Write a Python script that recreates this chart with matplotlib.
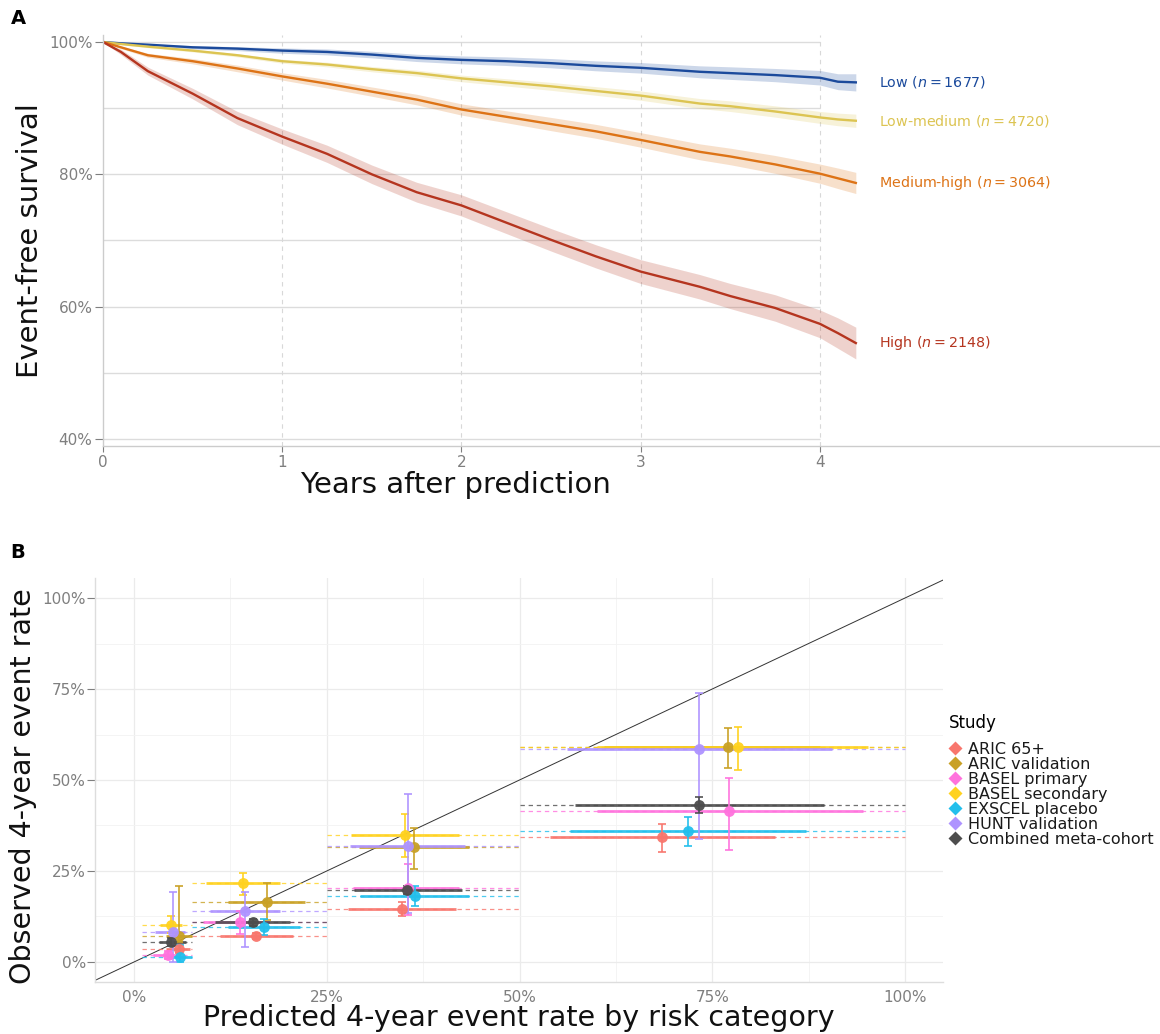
import matplotlib
matplotlib.use("Agg")
import matplotlib.pyplot as plt
from matplotlib.lines import Line2D
from matplotlib.ticker import FuncFormatter, FixedLocator

# ---------------- Panel A data ----------------
years = [0, 0.1, 0.25, 0.5, 0.75, 1, 1.25, 1.5, 1.75, 2, 2.25, 2.5, 2.75, 3, 3.33, 3.5, 3.75, 4, 4.1, 4.2]

surv_low = [100, 99.8, 99.6, 99.2, 99.0, 98.7, 98.5, 98.1, 97.6, 97.3, 97.1, 96.8, 96.4, 96.1, 95.5, 95.3, 95.0, 94.6, 94.0, 93.9]
surv_lowmed = [100, 99.7, 99.3, 98.7, 98.0, 97.1, 96.6, 95.9, 95.3, 94.5, 93.9, 93.3, 92.6, 91.9, 90.7, 90.3, 89.5, 88.6, 88.3, 88.1]
surv_medhigh = [100, 99.2, 98.0, 97.1, 96.0, 94.8, 93.7, 92.5, 91.3, 89.8, 88.7, 87.6, 86.5, 85.2, 83.4, 82.7, 81.5, 80.1, 79.4, 78.7]
surv_high = [100, 98.5, 95.6, 92.2, 88.5, 85.7, 83.1, 80.0, 77.3, 75.3, 72.7, 70.1, 67.6, 65.3, 63.0, 61.6, 59.8, 57.4, 56.0, 54.5]

hw_low = [0, .1, .15, .25, .3, .4, .45, .5, .55, .6, .65, .7, .75, .8, .9, .95, 1.0, 1.1, 1.2, 1.3]
hw_lowmed = [0, .1, .15, .2, .25, .3, .35, .4, .45, .5, .55, .6, .65, .7, .75, .8, .85, .9, .95, 1.0]
hw_medhigh = [0, .2, .3, .4, .5, .55, .65, .7, .8, .85, .9, 1.0, 1.05, 1.1, 1.2, 1.25, 1.35, 1.45, 1.55, 1.6]
hw_high = [0, .4, .6, .8, 1.0, 1.15, 1.3, 1.4, 1.5, 1.6, 1.65, 1.7, 1.75, 1.8, 1.85, 1.9, 2.0, 2.1, 2.3, 2.4]

group_names = ["Low", "Low-medium", "Medium-high", "High"]
group_n = [1677, 4720, 3064, 2148]
group_colors = ["#1B4A9C", "#DCC452", "#DD7316", "#B5351F"]

# ---------------- Panel B data ----------------
studies = ["ARIC 65+", "ARIC validation", "BASEL primary", "BASEL secondary",
           "EXSCEL placebo", "HUNT validation", "Combined meta-cohort"]
study_colors = ["#F8766D", "#C9A125", "#FF72DD", "#FFD21F", "#22BFEC", "#AE93FF", "#4D4D4D"]

bin_lo = [1, 7.5, 25, 50]
bin_hi = [7.5, 25, 50, 100]

pred = {
    "ARIC 65+":            [5.9, 15.8, 34.7, 68.5],
    "ARIC validation":     [5.9, 17.2, 36.3, 77.1],
    "BASEL primary":       [4.4, 13.7, 35.6, 77.2],
    "BASEL secondary":     [4.8, 14.1, 35.1, 78.3],
    "EXSCEL placebo":      [6.0, 16.9, 36.4, 71.9],
    "HUNT validation":     [5.0, 14.4, 35.5, 73.3],
    "Combined meta-cohort": [4.8, 15.4, 35.4, 73.3],
}
pred_lo = {
    "ARIC 65+":            [4.2, 11.2, 27.8, 54.0],
    "ARIC validation":     [4.2, 12.2, 29.2, 61.0],
    "BASEL primary":       [2.5, 9.0, 28.4, 60.0],
    "BASEL secondary":     [3.4, 9.3, 28.2, 60.0],
    "EXSCEL placebo":      [4.7, 12.2, 29.3, 56.5],
    "HUNT validation":     [2.7, 9.9, 28.0, 56.1],
    "Combined meta-cohort": [3.2, 10.5, 28.5, 57.2],
}
pred_hi = {
    "ARIC 65+":            [7.3, 20.6, 41.8, 83.1],
    "ARIC validation":     [7.5, 22.2, 43.4, 89.0],
    "BASEL primary":       [6.0, 17.5, 42.2, 94.5],
    "BASEL secondary":     [6.2, 18.9, 42.2, 95.2],
    "EXSCEL placebo":      [7.5, 21.5, 43.4, 87.1],
    "HUNT validation":     [6.6, 18.9, 42.9, 90.5],
    "Combined meta-cohort": [6.8, 20.2, 42.5, 89.5],
}
obs = {
    "ARIC 65+":            [3.5, 7.1, 14.5, 34.3],
    "ARIC validation":     [7.2, 16.6, 31.5, 59.2],
    "BASEL primary":       [1.9, 11.1, 20.2, 41.5],
    "BASEL secondary":     [10.2, 21.6, 34.9, 59.2],
    "EXSCEL placebo":      [1.5, 9.5, 18.2, 36.0],
    "HUNT validation":     [8.3, 14.0, 32.0, 58.4],
    "Combined meta-cohort": [5.4, 10.9, 19.8, 43.1],
}
obs_lo = {
    "ARIC 65+":            [2.5, 6.3, 12.5, 30.1],
    "ARIC validation":     [5.5, 11.5, 25.5, 53.4],
    "BASEL primary":       [0.8, 7.7, 12.9, 30.8],
    "BASEL secondary":     [8.0, 18.4, 28.9, 52.7],
    "EXSCEL placebo":      [0.0, 7.4, 15.5, 32.0],
    "HUNT validation":     [0.0, 4.2, 13.5, 33.7],
    "Combined meta-cohort": [4.4, 10.0, 18.8, 40.8],
}
obs_hi = {
    "ARIC 65+":            [4.8, 8.0, 16.6, 37.9],
    "ARIC validation":     [20.9, 21.8, 36.9, 64.4],
    "BASEL primary":       [3.0, 14.0, 26.8, 50.5],
    "BASEL secondary":     [12.6, 24.5, 40.6, 64.6],
    "EXSCEL placebo":      [4.7, 11.8, 20.9, 39.9],
    "HUNT validation":     [19.3, 19.3, 46.2, 73.8],
    "Combined meta-cohort": [6.5, 11.9, 20.8, 45.4],
}

# ---------------- Figure ----------------
W, H = 1160, 1034
fig = plt.figure(figsize=(W / 100, H / 100), dpi=100)
tick_gray = "#7F7F7F"
spine_gray = "#CCCCCC"

# ---- Panel A ----
axA = fig.add_axes([103 / W, 1 - 446 / H, 1057 / W, 411 / H])
axA.set_xlim(0, 5.897)
axA.set_ylim(38.94, 101.06)
axA.hlines([40, 50, 60, 70, 80, 90, 100], 0, 4, color="#DCDCDC", lw=1.0, zorder=0)
for xv in [1, 2, 3, 4]:
    axA.axvline(xv, color="#D8D8D8", lw=0.8, ls=(0, (4, 4)), zorder=0)

surv_all = [surv_low, surv_lowmed, surv_medhigh, surv_high]
hw_all = [hw_low, hw_lowmed, hw_medhigh, hw_high]
for name, n, c, s, hw in zip(group_names, group_n, group_colors, surv_all, hw_all):
    lo = [a - b for a, b in zip(s, hw)]
    hi = [a + b for a, b in zip(s, hw)]
    axA.fill_between(years, lo, hi, color=c, alpha=0.22, lw=0, zorder=1)
    axA.plot(years, s, color=c, lw=1.7, zorder=2)
    axA.text(4.33, s[-1], f"{name} ($n={n}$)", color=c, fontsize=10.3, va="center", ha="left")

axA.set_xticks([0, 1, 2, 3, 4])
axA.set_yticks([40, 60, 80, 100])
axA.yaxis.set_major_formatter(FuncFormatter(lambda v, p: f"{v:.0f}%"))
axA.tick_params(axis="y", colors=tick_gray, labelsize=11, length=6, width=0.8, pad=1.5)
axA.tick_params(axis="x", colors=tick_gray, labelsize=11, length=4.5, width=0.8, pad=2)
for sp in ["top", "right"]:
    axA.spines[sp].set_visible(False)
for sp in ["left", "bottom"]:
    axA.spines[sp].set_color(spine_gray)
    axA.spines[sp].set_linewidth(1.0)
axA.set_ylabel("Event-free survival", fontsize=21, color="#111111")
axA.set_xlabel("Years after prediction", fontsize=21, color="#111111")
axA.xaxis.set_label_coords((455 - 103) / 1057, -(485 - 446) / 411)
axA.xaxis.label.set_va("center")
axA.yaxis.set_label_coords(-(103 - 30) / 1057, 0.5)
axA.yaxis.label.set_va("center")

fig.text(18 / W, 1 - 18 / H, "A", fontsize=14, fontweight="bold", ha="center", va="center")
fig.text(18 / W, 1 - 553 / H, "B", fontsize=14, fontweight="bold", ha="center", va="center")

# ---- Panel B ----
axB = fig.add_axes([95 / W, 1 - 982 / H, 848 / W, 404 / H])
axB.set_xlim(-5.06, 104.93)
axB.set_ylim(-5.5, 105.5)
ticks = [0, 25, 50, 75, 100]
minors = [12.5, 37.5, 62.5, 87.5]
axB.xaxis.set_major_locator(FixedLocator(ticks))
axB.yaxis.set_major_locator(FixedLocator(ticks))
axB.xaxis.set_minor_locator(FixedLocator(minors))
axB.yaxis.set_minor_locator(FixedLocator(minors))
axB.grid(which="major", color="#EBEBEB", lw=0.9, zorder=0)
axB.grid(which="minor", color="#F3F3F3", lw=0.6, zorder=0)
axB.set_axisbelow(True)
fmt = FuncFormatter(lambda v, p: f"{v:.0f}%")
axB.xaxis.set_major_formatter(fmt)
axB.yaxis.set_major_formatter(fmt)
axB.tick_params(axis="x", colors=tick_gray, labelsize=11, length=0, pad=5.5)
axB.tick_params(axis="y", colors=tick_gray, labelsize=11, length=5.5, width=0.8, pad=1)
axB.tick_params(which="minor", length=0)
for sp in ["top", "right"]:
    axB.spines[sp].set_visible(False)
for sp in ["left", "bottom"]:
    axB.spines[sp].set_color("#DDDDDD")
    axB.spines[sp].set_linewidth(1.0)

axB.axline((0, 0), (100, 100), color="#333333", lw=0.7, zorder=1.5)

# dashed category extents
for st, c in zip(studies, study_colors):
    for k in range(4):
        axB.plot([bin_lo[k], bin_hi[k]], [obs[st][k], obs[st][k]], color=c, lw=0.9,
                 ls=(0, (3.5, 3)), alpha=0.8, zorder=2)
# horizontal solid ranges
for st, c in zip(studies, study_colors):
    for k in range(4):
        axB.plot([pred_lo[st][k], pred_hi[st][k]], [obs[st][k], obs[st][k]], color=c, lw=2.0,
                 alpha=0.9, solid_capstyle="butt", zorder=3)
# vertical error bars
for st, c in zip(studies, study_colors):
    yerr = [[o - l for o, l in zip(obs[st], obs_lo[st])], [h - o for o, h in zip(obs[st], obs_hi[st])]]
    axB.errorbar(pred[st], obs[st], yerr=yerr, fmt="none", ecolor=c, elinewidth=1.3,
                 capsize=3, capthick=1.3, alpha=0.9, zorder=4)
# points
for st, c in zip(studies, study_colors):
    axB.plot(pred[st], obs[st], "o", color=c, ms=7.8, mec="none", alpha=0.95, zorder=5)

axB.set_xlabel("Predicted 4-year event rate by risk category", fontsize=20.5, color="#111111")
axB.xaxis.set_label_coords(0.5, -(1018 - 982) / 404)
axB.xaxis.label.set_va("center")
axB.set_ylabel("Observed 4-year event rate", fontsize=20.5, color="#111111")
axB.yaxis.set_label_coords(-(95 - 23) / 848, (982 - 786) / 404)
axB.yaxis.label.set_va("center")

handles = [Line2D([0], [0], marker="D", color=c, ls="none", ms=7.5, mec="none") for c in study_colors]
leg = fig.legend(handles, studies, loc="upper left", bbox_to_anchor=(949 / W, 1 - 714 / H),
                 frameon=False, fontsize=11.5, title="Study", title_fontsize=12,
                 handlelength=0.8, handletextpad=0.4, labelspacing=0.0, borderpad=0,
                 borderaxespad=0, alignment="left")
leg._legend_box.sep = 7
for t in leg.get_texts():
    t.set_color("#1A1A1A")

fig.savefig("out.png", dpi=100)
